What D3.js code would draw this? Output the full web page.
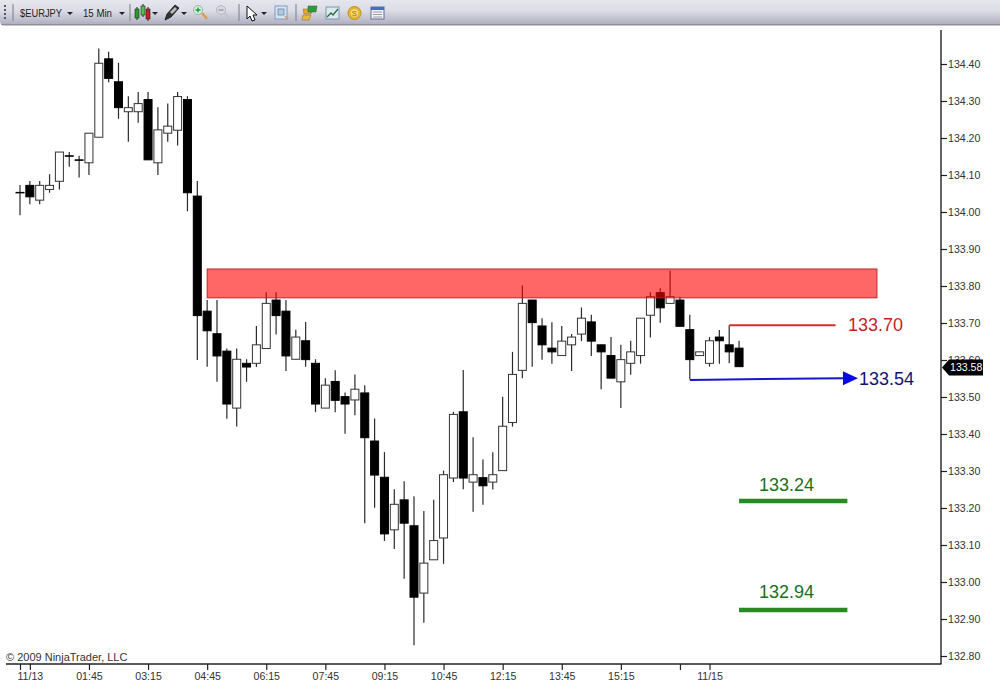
<!DOCTYPE html>
<html lang="en">
<head>
<meta charset="UTF-8">
<title>$EURJPY 15 Min</title>
<script src="https://cdn.jsdelivr.net/npm/d3@7"></script>
<style>
    html, body { margin: 0; padding: 0; background: #fff; overflow: hidden; }
    svg { display: block; }
    text { font-family: "Liberation Sans", Arial, sans-serif; }
    .axis path { display: none; }
    .axis line { stroke: #222; stroke-width: 1.2; }
    .axis text { font-size: 10.6px; fill: #333; }
    .level { font-size: 18px; }
</style>
</head>
<body>
<script>
    // candles (price per 15 min bar)
    var opens = [134.053,134.072,134.032,134.061,134.083,134.152,134.141,134.133,134.202,134.414,
        134.352,134.271,134.271,134.304,134.133,134.213,134.221,134.304,134.043,133.732,
        133.671,133.624,133.470,133.591,133.591,133.631,133.762,133.732,133.602,133.652,
        133.591,133.470,133.542,133.501,133.492,133.511,133.381,133.283,133.141,133.222,
        133.152,132.970,133.060,133.119,133.281,133.460,133.270,133.282,133.270,133.301,
        133.431,133.572,133.762,133.692,133.632,133.612,133.641,133.670,133.703,133.641,
        133.612,133.541,133.591,133.612,133.721,133.782,133.753,133.762,133.682,133.612,
        133.591,133.662,133.641,133.632]
    var highs = [134.073,134.084,134.084,134.102,134.162,134.162,134.152,134.213,134.442,134.433,
        134.403,134.313,134.324,134.324,134.283,134.293,134.324,134.313,134.084,133.762,
        133.762,133.631,133.631,133.602,133.692,133.783,133.783,133.762,133.682,133.703,
        133.602,133.551,133.572,133.512,133.561,133.532,133.442,133.351,133.251,133.272,
        133.232,133.192,133.222,133.301,133.460,133.573,133.391,133.331,133.351,133.501,
        133.622,133.802,133.762,133.713,133.702,133.692,133.670,133.742,133.722,133.641,
        133.662,133.641,133.652,133.713,133.783,133.794,133.841,133.771,133.722,133.622,
        133.662,133.681,133.694,133.652]
    var lows = [133.991,134.021,134.021,134.052,134.061,134.122,134.093,134.100,134.202,134.351,
        134.252,134.190,134.241,134.141,134.100,134.190,134.180,134.002,133.600,133.582,
        133.541,133.441,133.420,133.541,133.581,133.631,133.669,133.570,133.602,133.582,
        133.459,133.470,133.459,133.401,133.451,133.159,133.201,133.111,133.089,133.009,
        132.829,132.890,133.060,133.049,133.270,133.251,133.190,133.209,133.250,133.301,
        133.420,133.551,133.582,133.601,133.590,133.612,133.570,133.651,133.611,133.521,
        133.551,133.470,133.560,133.590,133.661,133.701,133.753,133.691,133.548,133.612,
        133.582,133.590,133.591,133.582]
    var closes = [134.053,134.041,134.072,134.072,134.162,134.152,134.141,134.213,134.402,134.361,
        134.282,134.282,134.293,134.141,134.222,134.232,134.312,134.052,133.720,133.679,
        133.611,133.481,133.602,133.581,133.641,133.753,133.720,133.611,133.662,133.601,
        133.481,133.532,133.491,133.481,133.521,133.390,133.289,133.130,133.210,133.159,
        132.959,133.051,133.112,133.290,133.453,133.281,133.290,133.260,133.290,133.421,
        133.561,133.753,133.701,133.641,133.622,133.651,133.662,133.713,133.651,133.622,
        133.551,133.601,133.622,133.713,133.771,133.741,133.771,133.691,133.601,133.622,
        133.652,133.652,133.622,133.582]

    // axes
    var xTickBars = [0, 1, 7, 13, 19, 25, 31, 37, 43, 49, 55, 61, 67, 70]
    var xTickLabels = ["", "11/13", "01:45", "03:15", "04:45", "06:15", "07:45", "09:15", "10:45", "12:15", "13:45", "15:15", "", "11/15"]
    var yTicks = [132.8, 132.9, 133.0, 133.1, 133.2, 133.3, 133.4, 133.5, 133.6, 133.7, 133.8, 133.9, 134.0, 134.1, 134.2, 134.3, 134.4]

    // drawn objects on top of the candles: [bar, price]
    var zoneBars = [19, 87]
    var zonePrices = [133.846, 133.768]
    var redLine = [[72, 133.694], [82.8, 133.694]]
    var blueLine = [[68, 133.546], [83.55, 133.551]]
    var greenBars = [73, 84]
    var greenPrices = [133.219, 132.924]
    var greenLabels = ["133.24", "132.94"]
    var greenLabelPrices = [133.246, 132.957]
    var lastPrice = 133.58

    var width = 1000
    var height = 689
    var axisX = 941
    var axisY = 664

    var x = d3.scaleLinear().domain([0, 87]).range([20, 20 + 87 * 9.85])
    var y = d3.scaleLinear().domain([132.8, 134.4]).range([656, 64])

    var svg = d3.select("body").append("svg")
        .attr("width", width)
        .attr("height", height)

    // 工具栏
    var defs = svg.append("defs")
    var grad = defs.append("linearGradient").attr("id", "bar").attr("x1", 0).attr("x2", 0).attr("y1", 0).attr("y2", 1)
    grad.append("stop").attr("offset", "0%").attr("stop-color", "#e6e6ee")
    grad.append("stop").attr("offset", "45%").attr("stop-color", "#dcdce6")
    grad.append("stop").attr("offset", "100%").attr("stop-color", "#b0b0c2")

    var bar = svg.append("g")
    bar.append("rect").attr("x", 0).attr("y", 0).attr("width", width).attr("height", 24).attr("fill", "url(#bar)")
    bar.append("rect").attr("x", 0).attr("y", 24).attr("width", width).attr("height", 1.5).attr("fill", "#8d8d9c")
    bar.append("path").attr("d", "M0,21v5h5q-5,0,-5,-5z").attr("fill", "#fff")
    bar.append("text").attr("x", 20).attr("y", 17).attr("font-size", 11).attr("fill", "#222")
        .attr("textLength", 42).attr("lengthAdjust", "spacingAndGlyphs").text("$EURJPY")
    bar.append("text").attr("x", 83).attr("y", 17).attr("font-size", 11).attr("fill", "#222")
        .attr("textLength", 29).attr("lengthAdjust", "spacingAndGlyphs").text("15 Min")

    ;[4].forEach(function(gx) {
        d3.range(5, 20, 4).forEach(function(gy) {
            bar.append("rect").attr("x", gx).attr("y", gy).attr("width", 2).attr("height", 2).attr("fill", "#55556a")
        })
    })
    ;[13, 130, 239, 296].forEach(function(sx) {
        bar.append("line").attr("x1", sx).attr("x2", sx).attr("y1", 4).attr("y2", 21).attr("stroke", "#8a8a98").attr("stroke-width", 1.2)
    })
    ;[70, 122, 155, 184, 264].forEach(function(cx) {
        bar.append("path").attr("d", "M" + (cx - 3) + ",12h6l-3,3z").attr("fill", "#222")
    })

    // 小蜡烛图标
    ;[[137, "#111", 8, 20, "#2d9a2d"], [143, "#1a8a1a", 5, 17, "#4fc04f"], [148, "#111", 8, 21, "#c82020"]].forEach(function(c) {
        bar.append("line").attr("x1", c[0]).attr("x2", c[0]).attr("y1", c[2] - 1).attr("y2", c[3]).attr("stroke", "#222")
        bar.append("rect").attr("x", c[0] - 2).attr("y", c[2] + 1).attr("width", 4).attr("height", c[3] - c[2] - 3).attr("fill", c[4]).attr("stroke", "#222").attr("stroke-width", 0.6)
    })
    // pen
    bar.append("path").attr("d", "M165,20l2,-6l8,-9l4,3l-8,9z").attr("fill", "#333").attr("stroke", "#111").attr("stroke-width", 0.8)
    bar.append("path").attr("d", "M170,12l5,-5l2,2l-5,5z").attr("fill", "#bbb")
    // zoom in / zoom out
    bar.append("line").attr("x1", 202).attr("y1", 13).attr("x2", 207).attr("y2", 19).attr("stroke", "#e09a4a").attr("stroke-width", 2.5)
    bar.append("circle").attr("cx", 198).attr("cy", 10).attr("r", 4.5).attr("fill", "#d8f0d8").attr("stroke", "#8fb5a5")
    bar.append("path").attr("d", "M195.5,10h5M198,7.5v5").attr("stroke", "#1d9a40").attr("stroke-width", 1.4)
    bar.append("line").attr("x1", 225).attr("y1", 13).attr("x2", 229).attr("y2", 18).attr("stroke", "#c4c4cc").attr("stroke-width", 2.5)
    bar.append("circle").attr("cx", 221).attr("cy", 10).attr("r", 4.5).attr("fill", "#d8d8e0").attr("stroke", "#b5b5be")
    bar.append("path").attr("d", "M218.5,10h5").attr("stroke", "#999").attr("stroke-width", 1.4)
    // cursor
    bar.append("path").attr("d", "M247,6l0,13l3,-3l2,5l3,-1l-2,-5l4,0z").attr("fill", "#fff").attr("stroke", "#111").attr("stroke-width", 1)
    // zoom box
    bar.append("rect").attr("x", 275).attr("y", 6).attr("width", 12).attr("height", 13).attr("fill", "#d5e2f2").attr("stroke", "#7f9cc0")
    bar.append("rect").attr("x", 278).attr("y", 9).attr("width", 6).attr("height", 6).attr("fill", "#b8c8da").attr("stroke", "#5f7f9f").attr("stroke-width", 0.7)
    bar.append("line").attr("x1", 285).attr("y1", 16).attr("x2", 288).attr("y2", 19).attr("stroke", "#d99a5a").attr("stroke-width", 1.5)
    // data icon
    bar.append("path").attr("d", "M303,9h10l-2,5h-7z").attr("fill", "#e2a927").attr("stroke", "#8a6b14").attr("stroke-width", 0.5)
    bar.append("path").attr("d", "M303,15h8l-2,5h-7z").attr("fill", "#e6b93a").attr("stroke", "#8a6b14").attr("stroke-width", 0.5)
    bar.append("path").attr("d", "M308,6h9l-1,6h-8z").attr("fill", "#2f9a3a").attr("stroke", "#1d6a25").attr("stroke-width", 0.5)
    // chart icon
    bar.append("rect").attr("x", 326).attr("y", 7).attr("width", 13).attr("height", 12).attr("fill", "#dbe8f0").attr("stroke", "#7898b0")
    bar.append("path").attr("d", "M327,17l4,-4l2,2l5,-6").attr("fill", "none").attr("stroke", "#2a6a3a").attr("stroke-width", 1.3)
    // coin
    bar.append("circle").attr("cx", 354.5).attr("cy", 13).attr("r", 6.5).attr("fill", "#e5b52e").attr("stroke", "#c28f14")
    bar.append("circle").attr("cx", 354.5).attr("cy", 13).attr("r", 3.8).attr("fill", "#f4dd8a")
    bar.append("text").attr("x", 354.5).attr("y", 16).attr("text-anchor", "middle").attr("font-size", 8).attr("font-weight", "bold").attr("fill", "#c28f14").text("S")
    // table icon
    bar.append("rect").attr("x", 371).attr("y", 7).attr("width", 13).attr("height", 12).attr("fill", "#f2f2f6").attr("stroke", "#5d6f9a")
    bar.append("rect").attr("x", 371).attr("y", 7).attr("width", 13).attr("height", 3).attr("fill", "#4a6cc0")
    bar.append("path").attr("d", "M373,12h9M373,14.5h9M373,17h9").attr("stroke", "#888").attr("stroke-width", 0.8)

    // 蜡烛
    var candles = svg.append("g").selectAll("g")
        .data(opens)
        .enter()
        .append("g")

    candles.append("line")
        .attr("x1", function(d, i) { return x(i) })
        .attr("x2", function(d, i) { return x(i) })
        .attr("y1", function(d, i) { return y(highs[i]) })
        .attr("y2", function(d, i) { return y(lows[i]) })
        .attr("stroke", "#2a2a2a")
        .attr("stroke-width", 1.2)

    candles.append("rect")
        .attr("x", function(d, i) { return x(i) - 4 })
        .attr("y", function(d, i) { return y(Math.max(opens[i], closes[i])) })
        .attr("width", 8)
        .attr("height", function(d, i) { return Math.max(Math.abs(y(opens[i]) - y(closes[i])), 0.5) })
        .attr("fill", function(d, i) { return closes[i] > opens[i] ? "#fff" : "#000" })
        .attr("stroke", function(d, i) { return closes[i] > opens[i] ? "#333" : "#000" })
        .attr("stroke-width", 1)

    // supply zone, covers the candles
    svg.append("rect")
        .attr("x", x(zoneBars[0]))
        .attr("y", y(zonePrices[0]))
        .attr("width", x(zoneBars[1]) - x(zoneBars[0]))
        .attr("height", y(zonePrices[1]) - y(zonePrices[0]))
        .attr("fill", "#ff0000")
        .attr("fill-opacity", 0.6)
        .attr("stroke", "#b52a2a")
        .attr("stroke-width", 1)

    var line = d3.line()
        .x(function(d) { return x(d[0]) })
        .y(function(d) { return y(d[1]) })

    svg.append("path").attr("d", line(redLine)).attr("fill", "none").attr("stroke", "#d42a2a").attr("stroke-width", 2)
    svg.append("text").attr("class", "level").attr("x", 848).attr("y", 331).attr("fill", "#c41f1f").text("133.70")

    svg.append("path").attr("d", line(blueLine)).attr("fill", "none").attr("stroke", "#1616c8").attr("stroke-width", 2)
    var tip = blueLine[1]
    svg.append("path")
        .attr("d", "M" + (x(tip[0]) + 15) + "," + y(tip[1]) + "l-15,-7v14z")
        .attr("fill", "#0a0ae0")
    svg.append("text").attr("class", "level").attr("x", 859).attr("y", 385).attr("fill", "#12126e").text("133.54")

    svg.selectAll(".green").data(greenPrices).enter().append("line")
        .attr("class", "green")
        .attr("x1", x(greenBars[0]))
        .attr("x2", x(greenBars[1]))
        .attr("y1", function(d) { return y(d) })
        .attr("y2", function(d) { return y(d) })
        .attr("stroke", "#2a8a22")
        .attr("stroke-width", 4.5)
    svg.selectAll(".greentext").data(greenLabels).enter().append("text")
        .attr("class", "greentext level")
        .attr("x", 759)
        .attr("y", function(d, i) { return y(greenLabelPrices[i]) })
        .attr("fill", "#1a701a")
        .text(function(d) { return d })

    // 坐标轴
    var xAxis = d3.axisBottom(x)
        .tickValues(xTickBars)
        .tickFormat(function(d, i) { return xTickLabels[i] })
        .tickSize(6)
        .tickPadding(2)
    svg.append("g").attr("class", "axis").attr("transform", "translate(0," + axisY + ")").call(xAxis)

    var yAxis = d3.axisRight(y)
        .tickValues(yTicks)
        .tickFormat(d3.format(".2f"))
        .tickSize(6)
        .tickPadding(1)
    svg.append("g").attr("class", "axis").attr("transform", "translate(" + axisX + ",0)").call(yAxis)

    svg.append("line").attr("x1", 6).attr("x2", axisX + 0.5).attr("y1", axisY).attr("y2", axisY).attr("stroke", "#222").attr("stroke-width", 1.3)
    svg.append("line").attr("x1", axisX).attr("x2", axisX).attr("y1", 30).attr("y2", axisY).attr("stroke", "#111").attr("stroke-width", 1.3)

    svg.append("text").attr("x", 6).attr("y", 661).attr("font-size", 11).attr("fill", "#333").text("© 2009 NinjaTrader, LLC")

    // last price tag
    var tagY = y(lastPrice)
    svg.append("path")
        .attr("d", "M942," + tagY + "l7,-8h34v16h-34z")
        .attr("fill", "#000")
    svg.append("text").attr("x", 950).attr("y", tagY + 4).attr("font-size", 10.6).attr("fill", "#fff").text(d3.format(".2f")(lastPrice))
</script>
</body>
</html>
